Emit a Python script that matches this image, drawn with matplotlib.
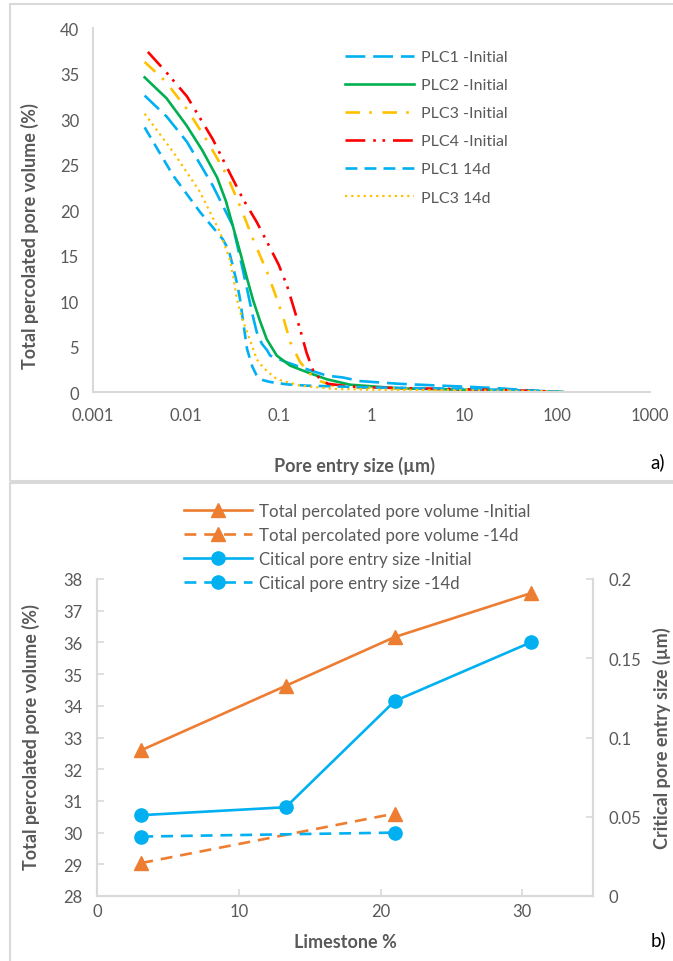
import matplotlib
matplotlib.use("Agg")
import matplotlib.pyplot as plt
from matplotlib.patches import Rectangle

plt.rcParams["font.family"] = ["Lato", "DejaVu Sans"]

# --- a) pore entry size curves (x in um, y in %) ---
plc1_init_x = [0.0036, 0.0062, 0.0103, 0.0195, 0.032, 0.038, 0.0457, 0.052, 0.058, 0.066, 0.075, 0.081,
               0.12, 0.17, 0.33, 0.49, 0.75, 2.0, 5.5, 12.4, 24, 55, 115]
plc1_init_y = [32.6, 30.3, 27.5, 22.7, 18.3, 15.0, 11.3, 8.6, 6.6, 5.3, 4.6, 4.0,
               3.3, 2.75, 1.8, 1.6, 1.2, 0.9, 0.7, 0.55, 0.4, 0.15, 0.0]

plc2_init_x = [0.0036, 0.0062, 0.0102, 0.015, 0.0217, 0.027, 0.032, 0.0384, 0.0453, 0.0534, 0.063,
               0.0744, 0.0955, 0.133, 0.2, 0.33, 0.59, 2.0, 10, 50, 115]
plc2_init_y = [34.6, 32.3, 29.3, 26.6, 23.6, 21.0, 18.3, 15.4, 12.6, 10.0, 7.8,
               5.8, 4.0, 2.9, 2.2, 1.4, 0.8, 0.4, 0.25, 0.1, 0.0]

plc3_init_x = [0.0036, 0.006, 0.0103, 0.017, 0.0278, 0.04, 0.053, 0.063, 0.075, 0.096, 0.115, 0.133,
               0.17, 0.217, 0.28, 0.38, 0.7, 1.5, 5, 20, 60, 115]
plc3_init_y = [36.3, 34.2, 31.1, 27.6, 23.8, 20.0, 16.8, 15.0, 13.2, 10.2, 7.8, 5.5,
               3.3, 2.0, 1.2, 0.7, 0.5, 0.4, 0.3, 0.2, 0.1, 0.0]

plc4_init_x = [0.0039, 0.006, 0.0103, 0.0195, 0.03, 0.0414, 0.058, 0.075, 0.1, 0.123, 0.145, 0.17,
               0.2, 0.234, 0.28, 0.34, 0.6, 1, 3, 10, 30, 60, 115]
plc4_init_y = [37.4, 35.3, 32.5, 27.8, 24.0, 21.2, 18.7, 16.5, 14.0, 11.7, 9.3, 6.9,
               4.3, 2.4, 1.4, 0.9, 0.6, 0.5, 0.4, 0.3, 0.2, 0.1, 0.0]

plc1_14d_x = [0.0036, 0.0073, 0.0142, 0.025, 0.029, 0.032, 0.0355, 0.0384, 0.042, 0.0457, 0.052, 0.058,
              0.068, 0.081, 0.12, 0.20, 1, 10, 50, 115]
plc1_14d_y = [29.1, 23.8, 19.8, 16.8, 15.6, 13.9, 12.0, 10.2, 7.3, 4.7, 2.8, 1.8,
              1.3, 1.1, 0.85, 0.7, 0.5, 0.35, 0.15, 0.0]

plc3_14d_x = [0.0036, 0.0073, 0.0142, 0.0233, 0.0297, 0.0325, 0.0355, 0.04, 0.0457, 0.052, 0.058,
              0.068, 0.081, 0.096, 0.17, 0.38, 1, 10, 50, 115]
plc3_14d_y = [30.6, 26.4, 22.0, 17.6, 14.6, 12.6, 10.2, 8.2, 6.6, 5.0, 3.6,
              2.7, 2.0, 1.4, 0.7, 0.35, 0.25, 0.2, 0.1, 0.0]

# --- b) summary vs limestone content ---
limestone = [3.1, 13.3, 21.0, 30.6]
limestone_14d = [3.1, 21.0]
tot_vol_init = [32.6, 34.63, 36.17, 37.55]
tot_vol_14d = [29.04, 30.6]
crit_size_init = [0.051, 0.056, 0.123, 0.160]
crit_size_14d = [0.0375, 0.040]

BLUE = "#00B0F0"
GREEN = "#00B050"
YELLOW = "#FFC000"
RED = "#FF0000"
ORANGE = "#ED7D31"
GREY_TXT = "#595959"
GREY_LINE = "#D9D9D9"

W, H = 673, 962
fig = plt.figure(figsize=(W / 100, H / 100), dpi=100)

# panel frames
fig.patches.append(Rectangle((10 / W, 1 - 482 / H), 670 / W, 477 / H, transform=fig.transFigure,
                             fill=False, edgecolor=GREY_LINE, lw=1.5))
fig.patches.append(Rectangle((10 / W, 1 - 970 / H), 670 / W, 486 / H, transform=fig.transFigure,
                             fill=False, edgecolor=GREY_LINE, lw=1.5))

# ---------------- panel a ----------------
ax = fig.add_axes([93 / W, 1 - 393 / H, 557 / W, (393 - 29.3) / H])
lw = 1.9
ax.plot(plc1_init_x, plc1_init_y, color=BLUE, lw=lw, ls=(0, (7.5, 3)), label="PLC1 -Initial")
ax.plot(plc2_init_x, plc2_init_y, color=GREEN, lw=lw, ls="-", label="PLC2 -Initial")
ax.plot(plc3_init_x, plc3_init_y, color=YELLOW, lw=lw, ls=(0, (5.5, 3.5, 1, 4)), label="PLC3 -Initial")
ax.plot(plc4_init_x, plc4_init_y, color=RED, lw=lw, ls=(0, (7.5, 3, 1, 2.5, 1, 3)), label="PLC4 -Initial")
ax.plot(plc1_14d_x, plc1_14d_y, color=BLUE, lw=lw, ls=(0, (4.5, 2.7)), label="PLC1 14d")
ax.plot(plc3_14d_x, plc3_14d_y, color=YELLOW, lw=1.6, ls=(0, (1, 1.8)), label="PLC3 14d")

ax.set_xscale("log")
ax.set_xlim(0.001, 1000)
ax.set_ylim(0, 40)
ax.set_xticks([0.001, 0.01, 0.1, 1, 10, 100, 1000])
ax.set_xticklabels(["0.001", "0.01", "0.1", "1", "10", "100", "1000"])
ax.set_yticks(range(0, 41, 5))
ax.minorticks_off()
for s in ["top", "right"]:
    ax.spines[s].set_visible(False)
for s in ["left", "bottom"]:
    ax.spines[s].set_color(GREY_LINE)
    ax.spines[s].set_linewidth(1.5)
ax.tick_params(axis="both", length=0, labelsize=12, labelcolor=GREY_TXT)
ax.tick_params(axis="x", pad=11)
ax.tick_params(axis="y", pad=10)

ax.legend(loc="upper left", bbox_to_anchor=(345 / W, 1 - 51 / H), bbox_transform=fig.transFigure,
          frameon=False, fontsize=11.5, handlelength=4.3, handletextpad=0.45, labelspacing=0.87,
          labelcolor=GREY_TXT, borderaxespad=0, borderpad=0)

fig.text(30 / W, 1 - 236 / H, "Total percolated pore volume (%)", rotation=90, ha="center", va="center",
         fontsize=13, fontweight="bold", color=GREY_TXT)
fig.text(355 / W, 1 - 466 / H, "Pore entry size (µm)", ha="center", va="center",
         fontsize=13, fontweight="bold", color=GREY_TXT)
fig.text(658 / W, 1 - 462 / H, "a)", ha="center", va="center", fontsize=13.5, color="black")

# ---------------- panel b ----------------
bx = fig.add_axes([97.4 / W, 1 - 897 / H, (593 - 97.4) / W, (897 - 580) / H])
bx2 = bx.twinx()

l1, = bx.plot(limestone, tot_vol_init, color=ORANGE, lw=1.9, marker="^", ms=9.5,
              label="Total percolated pore volume -Initial")
l2, = bx.plot(limestone_14d, tot_vol_14d, color=ORANGE, lw=1.9, ls=(0, (4.5, 3)), marker="^", ms=9.5,
              label="Total percolated pore volume -14d")
l3, = bx2.plot(limestone, crit_size_init, color=BLUE, lw=1.9, marker="o", ms=9.5,
               label="Citical pore entry size -Initial")
l4, = bx2.plot(limestone_14d, crit_size_14d, color=BLUE, lw=1.9, ls=(0, (4.5, 3)), marker="o", ms=9.5,
               label="Citical pore entry size -14d")

bx.set_xlim(0, 35)
bx.set_ylim(28, 38)
bx.set_xticks([0, 10, 20, 30])
bx.set_yticks(range(28, 39))
bx2.set_ylim(0, 0.2)
bx2.set_yticks([0, 0.05, 0.1, 0.15, 0.2])
bx2.set_yticklabels(["0", "0.05", "0.1", "0.15", "0.2"])

for a in (bx, bx2):
    a.spines["top"].set_visible(False)
    for s in ["left", "right", "bottom"]:
        a.spines[s].set_color(GREY_LINE)
        a.spines[s].set_linewidth(1.5)
    a.tick_params(axis="both", direction="in", length=5, width=1.2, color=GREY_LINE,
                  labelsize=12, labelcolor=GREY_TXT)
bx.tick_params(axis="y", pad=11)
bx.tick_params(axis="x", pad=5)
bx2.tick_params(axis="y", pad=11)

bx.legend(handles=[l1, l2, l3, l4], loc="upper left", bbox_to_anchor=(184 / W, 1 - 504 / H),
          bbox_transform=fig.transFigure, frameon=False, fontsize=12.2, handlelength=4.0,
          handletextpad=0.45, labelspacing=0.47, labelcolor=GREY_TXT, borderaxespad=0, borderpad=0)

fig.text(31 / W, 1 - 737 / H, "Total percolated pore volume (%)", rotation=90, ha="center", va="center",
         fontsize=13, fontweight="bold", color=GREY_TXT)
fig.text(662 / W, 1 - 738 / H, "Critical pore entry size (µm)", rotation=90, ha="center", va="center",
         fontsize=13, fontweight="bold", color=GREY_TXT)
fig.text(345 / W, 1 - 943 / H, "Limestone %", ha="center", va="center",
         fontsize=13, fontweight="bold", color=GREY_TXT)
fig.text(658 / W, 1 - 940 / H, "b)", ha="center", va="center", fontsize=13.5, color="black")

fig.savefig("out.png", dpi=100)
